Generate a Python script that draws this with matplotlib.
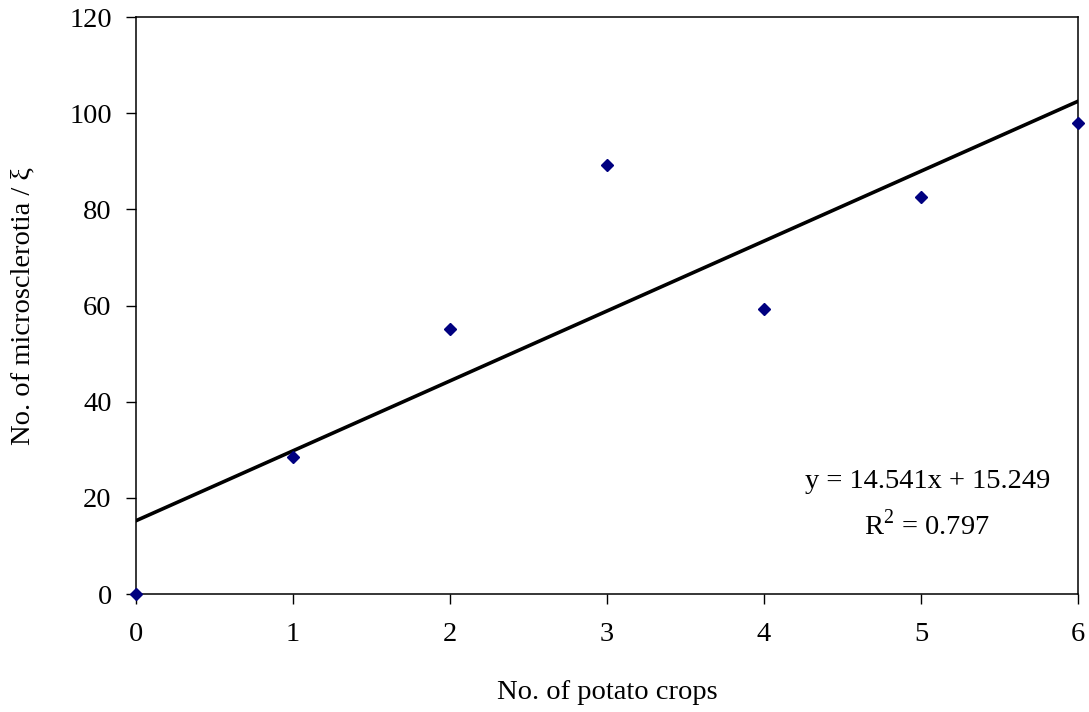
import numpy as np
import matplotlib
matplotlib.use("Agg")
import matplotlib.pyplot as plt

# data
potato_crops = [0, 1, 2, 3, 4, 5, 6]
microsclerotia = [0.0, 28.5, 55.1, 89.3, 59.2, 82.6, 98.0]

slope = 14.541
intercept = 15.249
r_squared = 0.797

plt.rcParams["font.family"] = ["Liberation Serif", "DejaVu Serif"]
plt.rcParams["mathtext.fontset"] = "custom"
plt.rcParams["mathtext.rm"] = "Liberation Serif"

fs = 20.5

fig = plt.figure(figsize=(10.89, 7.12), dpi=100)
ax = fig.add_axes([0.1249, 0.1657, 0.865, 0.8103])

x_fit = np.array([0, 6])
ax.plot(x_fit, slope * x_fit + intercept, color="black", lw=2.6, zorder=2)

ax.plot(potato_crops, microsclerotia, linestyle="none", marker="D", ms=6.2,
        color="#000080", clip_on=False, zorder=3)

ax.set_xlim(0, 6)
ax.set_ylim(0, 120)
ax.set_xticks(range(0, 7))
ax.set_yticks(range(0, 121, 20))

ax.tick_params(direction="out", length=7.5, width=1, labelsize=fs)
ax.tick_params(axis="x", pad=12.5)
ax.tick_params(axis="y", pad=10)
for s in ax.spines.values():
    s.set_linewidth(1.1)
    s.set_color("black")

ax.set_xlabel("No. of potato crops", fontsize=fs, labelpad=24)
ax.set_ylabel("No. of microsclerotia / ξ", fontsize=fs, labelpad=24)

ax.text(5.04, 22.1, "y = {}x + {}".format(slope, intercept), fontsize=fs,
        ha="center", va="baseline")
ax.text(5.04, 12.3, "R$^{2}$ = " + "{}".format(r_squared), fontsize=fs,
        ha="center", va="baseline")

fig.savefig("out.png", dpi=100)
